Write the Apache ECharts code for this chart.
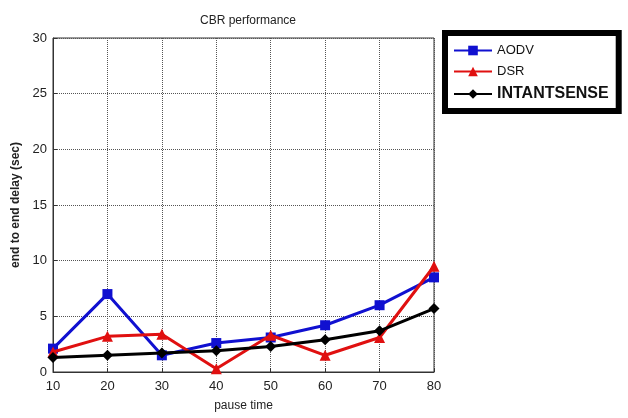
<!DOCTYPE html>
<html>
<head>
    <meta charset="utf-8">
    <title>CBR performance</title>
    <script src="https://cdn.jsdelivr.net/npm/echarts@6/dist/echarts.min.js"></script>
    <style>
        html, body { margin: 0; padding: 0; background: #fff; }
    </style>
</head>
<body>
    <div id="main" style="width: 628px;height:418px;"></div>
    <script type="text/javascript">
        // pause time
        var pauseTimes = [10, 20, 30, 40, 50, 60, 70, 80];
        // end to end delay (sec)
        var aodv = [2.1, 7.0, 1.5, 2.6, 3.1, 4.2, 6.0, 8.5];
        var dsr = [1.8, 3.2, 3.4, 0.3, 3.3, 1.5, 3.1, 9.5];
        var intantsense = [1.3, 1.5, 1.7, 1.9, 2.3, 2.9, 3.7, 5.7];
        var yTicks = [0, 5, 10, 15, 20, 25, 30];

        var font = "'Liberation Sans Narrow', 'Liberation Sans', Arial, sans-serif";

        function pairs(vals) {
            return pauseTimes.map(function (t, i) { return [t, vals[i]]; });
        }

        var myChart = echarts.init(document.getElementById('main'));
        myChart.setOption({
            animation: false,
            title: {
                text: 'CBR performance',
                left: 243,
                top: 10,
                textAlign: 'center',
                textStyle: { fontFamily: font, fontSize: 12, fontWeight: 'normal', color: '#222' }
            },
            legend: {
                orient: 'vertical',
                left: 445,
                top: 33,
                width: 172,
                padding: [11, 10, 9, 8],
                itemGap: 8,
                itemWidth: 38,
                itemHeight: 12,
                borderColor: '#000',
                borderWidth: 6,
                backgroundColor: '#fff',
                textStyle: { fontFamily: font, fontSize: 13, color: '#111' },
                data: [
                    { name: 'AODV' },
                    { name: 'DSR' },
                    { name: 'INTANTSENSE', textStyle: { fontWeight: 'bold', fontSize: 16, fontFamily: 'Liberation Sans, Arial, sans-serif' } }
                ]
            },
            grid: {
                left: 53,
                right: 194,
                top: 38,
                bottom: 46,
                show: true,
                borderColor: '#333',
                borderWidth: 1
            },
            xAxis: {
                type: 'value',
                min: 10,
                max: 80,
                interval: 10,
                name: 'pause time',
                nameLocation: 'middle',
                nameGap: 28,
                nameTextStyle: { fontFamily: font, fontSize: 12, color: '#222' },
                axisLine: { lineStyle: { color: '#333' } },
                axisTick: { inside: true, length: 4, lineStyle: { color: '#333' } },
                axisLabel: { fontFamily: font, fontSize: 13, color: '#222', margin: 8 },
                splitLine: { show: true, lineStyle: { type: 'dotted', color: '#555', width: 1 } }
            },
            yAxis: {
                type: 'value',
                min: 0,
                max: 30,
                interval: 5,
                name: 'end to end delay (sec)',
                nameLocation: 'middle',
                nameGap: 30,
                nameTextStyle: { fontFamily: 'Liberation Sans, Arial, sans-serif', fontSize: 12, fontWeight: 'bold', color: '#222' },
                axisLine: { show: true, lineStyle: { color: '#333' } },
                axisTick: { show: true, inside: true, length: 4, lineStyle: { color: '#333' } },
                axisLabel: {
                    fontFamily: font, fontSize: 13, color: '#222', margin: 6,
                    formatter: function (v) { return yTicks.indexOf(v) >= 0 ? String(v) : ''; }
                },
                splitLine: { show: true, lineStyle: { type: 'dotted', color: '#555', width: 1 } }
            },
            series: [
                {
                    name: 'AODV',
                    type: 'line',
                    data: pairs(aodv),
                    symbol: 'rect',
                    symbolSize: 10,
                    lineStyle: { color: '#1010d0', width: 3 },
                    itemStyle: { color: '#1010d0' },
                    z: 3
                },
                {
                    name: 'DSR',
                    type: 'line',
                    data: pairs(dsr),
                    symbol: 'triangle',
                    symbolSize: 11,
                    lineStyle: { color: '#e01010', width: 3 },
                    itemStyle: { color: '#e01010' },
                    z: 4
                },
                {
                    name: 'INTANTSENSE',
                    type: 'line',
                    data: pairs(intantsense),
                    symbol: 'diamond',
                    symbolSize: 11,
                    lineStyle: { color: '#000', width: 3 },
                    itemStyle: { color: '#000' },
                    z: 5
                }
            ]
        });
    </script>
</body>
</html>
